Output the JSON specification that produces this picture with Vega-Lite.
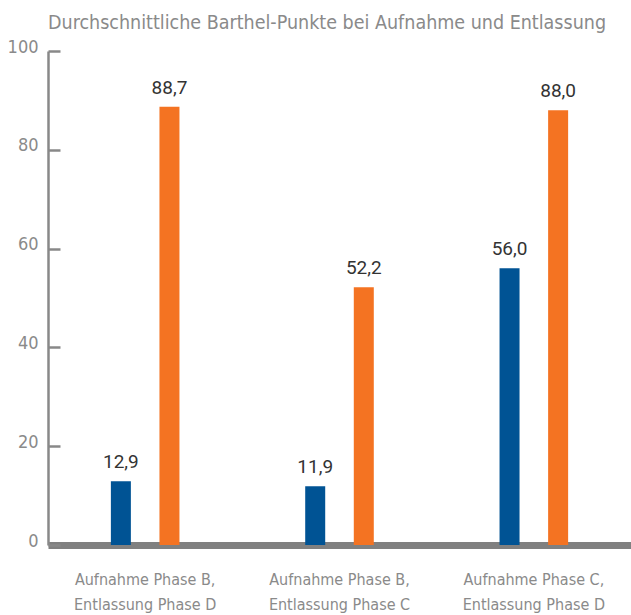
{
  "$schema": "https://vega.github.io/schema/vega-lite/v6.json",
  "width": 583,
  "height": 494,
  "autosize": {"type": "none"},
  "padding": {"left": 48, "top": 51, "right": 0, "bottom": 70},
  "background": "white",
  "title": {
    "text": "Durchschnittliche Barthel-Punkte bei Aufnahme und Entlassung",
    "anchor": "start",
    "frame": "group",
    "font": "'DejaVu Sans Condensed', sans-serif",
    "fontSize": 19.5,
    "fontWeight": "normal",
    "color": "#8a8a8a",
    "offset": 5
  },
  "config": {
    "view": {"stroke": null},
    "locale": {"number": {"decimal": ",", "thousands": ".", "grouping": [3], "currency": ["", " €"]}}
  },
  "data": {
    "values": [
      {"gruppe": "Aufnahme Phase B,|Entlassung Phase D", "zeitpunkt": "Aufnahme", "wert": 12.9},
      {"gruppe": "Aufnahme Phase B,|Entlassung Phase D", "zeitpunkt": "Entlassung", "wert": 88.7},
      {"gruppe": "Aufnahme Phase B,|Entlassung Phase C", "zeitpunkt": "Aufnahme", "wert": 11.9},
      {"gruppe": "Aufnahme Phase B,|Entlassung Phase C", "zeitpunkt": "Entlassung", "wert": 52.2},
      {"gruppe": "Aufnahme Phase C,|Entlassung Phase D", "zeitpunkt": "Aufnahme", "wert": 56.0},
      {"gruppe": "Aufnahme Phase C,|Entlassung Phase D", "zeitpunkt": "Entlassung", "wert": 88.0}
    ]
  },
  "encoding": {
    "x": {
      "field": "gruppe",
      "type": "nominal",
      "sort": null,
      "scale": {"paddingInner": 0, "paddingOuter": 0},
      "axis": {
        "title": null,
        "labelAngle": 0,
        "labelExpr": "split(datum.label, '|')",
        "labelFont": "'DejaVu Sans Condensed', sans-serif",
        "labelFontSize": 16,
        "labelColor": "#8a8a8a",
        "labelLineHeight": 25,
        "labelPadding": 26,
        "ticks": false,
        "domainColor": "#808080",
        "domainWidth": 7
      }
    },
    "xOffset": {
      "field": "zeitpunkt",
      "type": "nominal",
      "scale": {"paddingInner": 0, "paddingOuter": 1}
    },
    "y": {
      "field": "wert",
      "type": "quantitative",
      "scale": {"domain": [0, 100]},
      "axis": {
        "title": null,
        "values": [0, 20, 40, 60, 80, 100],
        "grid": false,
        "labelFont": "'DejaVu Sans Condensed', sans-serif",
        "labelFontSize": 18,
        "labelColor": "#8a8a8a",
        "labelOffset": -4,
        "labelPadding": 22,
        "tickSize": -12,
        "tickWidth": 2.5,
        "tickColor": "#888888",
        "domainColor": "#888888",
        "domainWidth": 2.5
      }
    }
  },
  "layer": [
    {
      "mark": {"type": "bar", "width": 20},
      "encoding": {
        "color": {
          "field": "zeitpunkt",
          "type": "nominal",
          "scale": {"domain": ["Aufnahme", "Entlassung"], "range": ["#005394", "#f47322"]},
          "legend": null
        }
      }
    },
    {
      "mark": {"type": "text", "baseline": "alphabetic", "dy": -13, "font": "Roboto", "fontSize": 19, "color": "#333333"},
      "encoding": {
        "text": {"field": "wert", "type": "quantitative", "format": ".1f"}
      }
    }
  ]
}
